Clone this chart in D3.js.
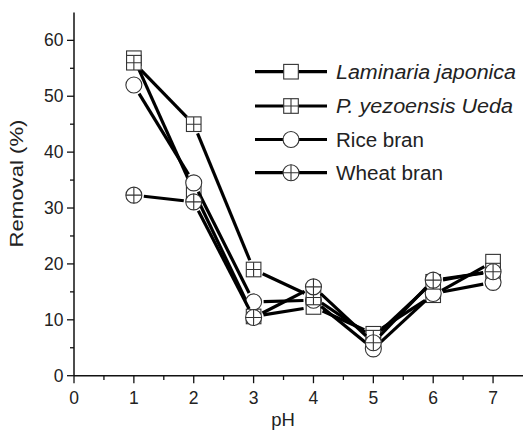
<!DOCTYPE html>
<html>
<head>
<meta charset="utf-8">
<script src="https://cdn.jsdelivr.net/npm/d3@7"></script>
<style>
  html, body { margin: 0; padding: 0; background: #fff; }
  svg { display: block; font-family: Arial, "Liberation Sans", sans-serif; }
</style>
</head>
<body>
<div id="chart"></div>
<script>
  const phValues = [1, 2, 3, 4, 5, 6, 7];
  const xTicks = [0, 1, 2, 3, 4, 5, 6, 7];
  const yTicks = [0, 10, 20, 30, 40, 50, 60];

  const laminaria = [56.8, 33.0, 10.6, 12.3, 7.5, 14.4, 20.4];
  const yezoensis = [56.0, 45.0, 19.0, 14.0, 6.8, 16.8, 18.8];
  const riceBran = [52.0, 34.5, 13.2, 13.5, 4.8, 14.7, 16.7];
  const wheatBran = [32.3, 31.1, 10.4, 15.9, 5.9, 17.1, 18.6];

  // draw order matters: later series sit on top
  const series = [
    { name: "Laminaria japonica", italic: true, symbol: "square", values: laminaria, textLen: 180 },
    { name: "Rice bran", italic: false, symbol: "circle", values: riceBran, textLen: 88 },
    { name: "P. yezoensis Ueda", italic: true, symbol: "squarePlus", values: yezoensis, textLen: 177 },
    { name: "Wheat bran", italic: false, symbol: "circlePlus", values: wheatBran, textLen: 107 },
  ];
  const legendOrder = ["Laminaria japonica", "P. yezoensis Ueda", "Rice bran", "Wheat bran"];

  const width = 523;
  const height = 431;
  const x = d3.scaleLinear().domain([0, 7.5]).range([74, 523]);
  const y = d3.scaleLinear().domain([0, 65]).range([375.7, 12.4]);

  const svg = d3.select("#chart").append("svg").attr("width", width).attr("height", height);

  // axes
  const axisColor = "#111";
  svg.append("line")
    .attr("x1", x(0)).attr("x2", x(0)).attr("y1", y(65)).attr("y2", y(0))
    .attr("stroke", axisColor).attr("stroke-width", 1.5);
  svg.append("line")
    .attr("x1", x(0)).attr("x2", x(7.5)).attr("y1", y(0)).attr("y2", y(0))
    .attr("stroke", axisColor).attr("stroke-width", 1.5);

  const yMinor = d3.range(5, 65, 10);
  const xMinor = d3.range(0.5, 7.5, 1);

  svg.append("g").selectAll("line").data(yTicks).join("line")
    .attr("x1", x(0) - 7).attr("x2", x(0)).attr("y1", (d) => y(d)).attr("y2", (d) => y(d))
    .attr("stroke", axisColor).attr("stroke-width", 1.3);
  svg.append("g").selectAll("line").data(yMinor).join("line")
    .attr("x1", x(0) - 4).attr("x2", x(0)).attr("y1", (d) => y(d)).attr("y2", (d) => y(d))
    .attr("stroke", axisColor).attr("stroke-width", 1.3);
  svg.append("g").selectAll("line").data(xTicks).join("line")
    .attr("x1", (d) => x(d)).attr("x2", (d) => x(d)).attr("y1", y(0)).attr("y2", y(0) + 7.5)
    .attr("stroke", axisColor).attr("stroke-width", 1.3);
  svg.append("g").selectAll("line").data(xMinor).join("line")
    .attr("x1", (d) => x(d)).attr("x2", (d) => x(d)).attr("y1", y(0)).attr("y2", y(0) + 4.3)
    .attr("stroke", axisColor).attr("stroke-width", 1.3);

  svg.append("g").selectAll("text").data(yTicks).join("text")
    .attr("x", x(0) - 10.5).attr("y", (d) => y(d)).attr("dy", "0.35em")
    .attr("text-anchor", "end").attr("font-size", 17.5).attr("fill", "#222")
    .text((d) => d);
  svg.append("g").selectAll("text").data(xTicks).join("text")
    .attr("x", (d) => x(d)).attr("y", 398).attr("dy", "0.35em")
    .attr("text-anchor", "middle").attr("font-size", 17.5).attr("fill", "#222")
    .text((d) => d);

  svg.append("text")
    .attr("transform", "translate(23,183.5) rotate(-90)")
    .attr("text-anchor", "middle").attr("font-size", 19).attr("fill", "#222")
    .attr("textLength", 128).attr("lengthAdjust", "spacingAndGlyphs")
    .text("Removal (%)");
  svg.append("text")
    .attr("x", 283).attr("y", 426)
    .attr("text-anchor", "middle").attr("font-size", 18.5).attr("fill", "#222")
    .text("pH");

  // markers
  const mStroke = "#333";
  function drawSymbol(g, type, cx, cy) {
    const s = 7.3;
    const r = 8;
    if (type === "square" || type === "squarePlus") {
      g.append("rect")
        .attr("x", cx - s).attr("y", cy - s).attr("width", 2 * s).attr("height", 2 * s)
        .attr("fill", "#fff").attr("stroke", mStroke).attr("stroke-width", 1.1);
      if (type === "squarePlus") {
        g.append("path")
          .attr("d", `M${cx - s},${cy}H${cx + s}M${cx},${cy - s}V${cy + s}`)
          .attr("stroke", mStroke).attr("stroke-width", 1.1);
      }
    } else {
      g.append("circle")
        .attr("cx", cx).attr("cy", cy).attr("r", r)
        .attr("fill", "#fff").attr("stroke", mStroke).attr("stroke-width", 1.1);
      if (type === "circlePlus") {
        g.append("path")
          .attr("d", `M${cx - r},${cy}H${cx + r}M${cx},${cy - r}V${cy + r}`)
          .attr("stroke", mStroke).attr("stroke-width", 1.1);
      }
    }
  }

  // lines with a small gap at each symbol
  const gap = 10;
  series.forEach((s) => {
    const pts = s.values.map((v, i) => [x(phValues[i]), y(v)]);
    const g = svg.append("g");
    for (let i = 0; i < pts.length - 1; i++) {
      const [x1, y1] = pts[i];
      const [x2, y2] = pts[i + 1];
      const len = Math.hypot(x2 - x1, y2 - y1);
      if (len <= 2 * gap) continue;
      const ux = (x2 - x1) / len;
      const uy = (y2 - y1) / len;
      g.append("line")
        .attr("x1", x1 + ux * gap).attr("y1", y1 + uy * gap)
        .attr("x2", x2 - ux * gap).attr("y2", y2 - uy * gap)
        .attr("stroke", "#000").attr("stroke-width", 3.2);
    }
    pts.forEach(([px, py]) => drawSymbol(g, s.symbol, px, py));
  });

  // legend
  const legendRows = [71.7, 106, 139.5, 172.7];
  legendOrder.forEach((name, i) => {
    const s = series.find((d) => d.name === name);
    const ly = legendRows[i];
    const g = svg.append("g");
    g.append("line")
      .attr("x1", 255).attr("x2", 327).attr("y1", ly).attr("y2", ly)
      .attr("stroke", "#000").attr("stroke-width", 3.2);
    drawSymbol(g, s.symbol, 291, ly);
    g.append("text")
      .attr("x", 336).attr("y", ly).attr("dy", "0.36em")
      .attr("font-size", 20).attr("fill", "#222")
      .attr("font-style", s.italic ? "italic" : "normal")
      .attr("textLength", s.textLen).attr("lengthAdjust", "spacingAndGlyphs")
      .text(s.name);
  });
</script>
</body>
</html>
